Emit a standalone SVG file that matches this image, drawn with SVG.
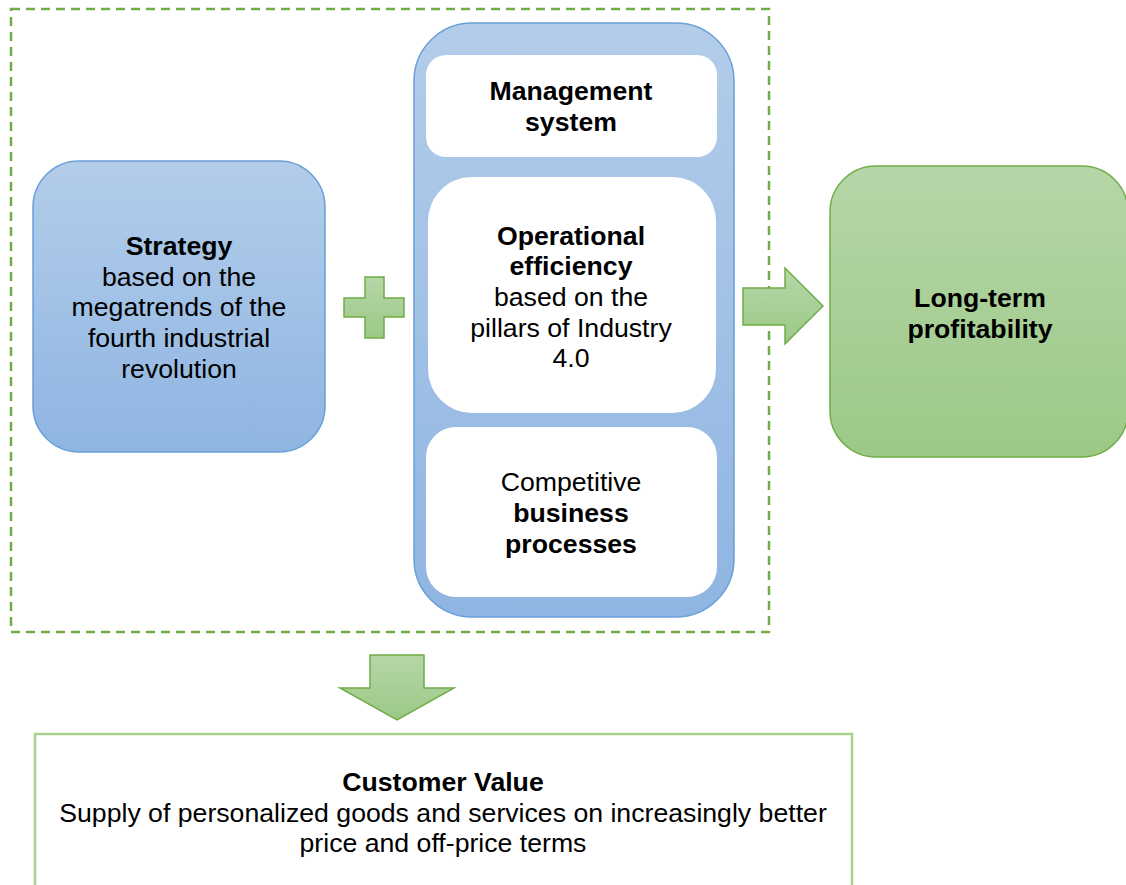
<svg xmlns="http://www.w3.org/2000/svg" width="1126" height="885" viewBox="0 0 1126 885">
<defs>
<linearGradient id="gBlue" x1="0" y1="0" x2="0" y2="1"><stop offset="0" stop-color="#b3cdea"/><stop offset="1" stop-color="#8fb5e2"/></linearGradient>
<linearGradient id="gGreen" x1="0" y1="0" x2="0" y2="1"><stop offset="0" stop-color="#b6d6a8"/><stop offset="1" stop-color="#9cc986"/></linearGradient>
<style>
.t{font-family:"Liberation Sans",Arial,sans-serif;font-size:26.67px;fill:#000;text-anchor:middle}
.b{font-weight:bold}
.blue{fill:url(#gBlue);stroke:#6a9fd8;stroke-width:1.5}
.green{fill:url(#gGreen);stroke:#70ad47;stroke-width:1.5}
.inner{fill:#fff;stroke:none}
</style>
</defs>
<rect width="1126" height="885" fill="#fff"/>
<g id="frame">
<rect x="11" y="9" width="758" height="623" fill="none" stroke="#70ad47" stroke-width="2.5" stroke-dasharray="9,6"/>
</g>
<g id="strategy">
<rect class="blue" x="33" y="161" width="292" height="291" rx="46"/>
<text class="t"><tspan class="b" x="179" y="255">Strategy</tspan><tspan x="179" y="286">based on the</tspan><tspan x="179" y="316">megatrends of the</tspan><tspan x="179" y="347">fourth industrial</tspan><tspan x="179" y="378">revolution</tspan></text>
</g>
<g id="container">
<rect class="blue" x="414" y="23" width="320" height="594" rx="58"/>
</g>
<g id="management">
<rect class="inner" x="426" y="55" width="291" height="102" rx="20"/>
<text class="t b"><tspan x="571" y="100">Management</tspan><tspan x="571" y="131">system</tspan></text>
</g>
<g id="operational">
<rect class="inner" x="428" y="177" width="288" height="236" rx="44"/>
<text class="t"><tspan class="b" x="571" y="245">Operational</tspan><tspan class="b" x="571" y="275">efficiency</tspan><tspan x="571" y="306">based on the</tspan><tspan x="571" y="337">pillars of Industry</tspan><tspan x="571" y="367">4.0</tspan></text>
</g>
<g id="competitive">
<rect class="inner" x="426" y="427" width="291" height="170" rx="30"/>
<text class="t"><tspan x="571" y="491">Competitive</tspan><tspan class="b" x="571" y="522">business</tspan><tspan class="b" x="571" y="553">processes</tspan></text>
</g>
<g id="profitability">
<rect class="green" x="830" y="166" width="298" height="291" rx="46"/>
<text class="t b"><tspan x="980" y="307">Long-term</tspan><tspan x="980" y="338">profitability</tspan></text>
</g>
<g id="customer">
<rect x="35" y="734" width="817" height="170" fill="#fff" stroke="#a9d18e" stroke-width="2.5"/>
<text class="t"><tspan class="b" x="443" y="791">Customer Value</tspan><tspan x="443" y="822">Supply of personalized goods and services on increasingly better</tspan><tspan x="443" y="852">price and off-price terms</tspan></text>
</g>
<g id="connectors">
<path class="green" d="M365,277 H384 V298 H404 V317 H384 V338 H365 V317 H344 V298 H365 Z"/>
<path class="green" d="M743,288 H785 V268 L823,306 L785,344 V325 H743 Z"/>
<path class="green" d="M370,655 H424 V688 H454 L397,720 L340,688 H370 Z"/>
</g>
</svg>
